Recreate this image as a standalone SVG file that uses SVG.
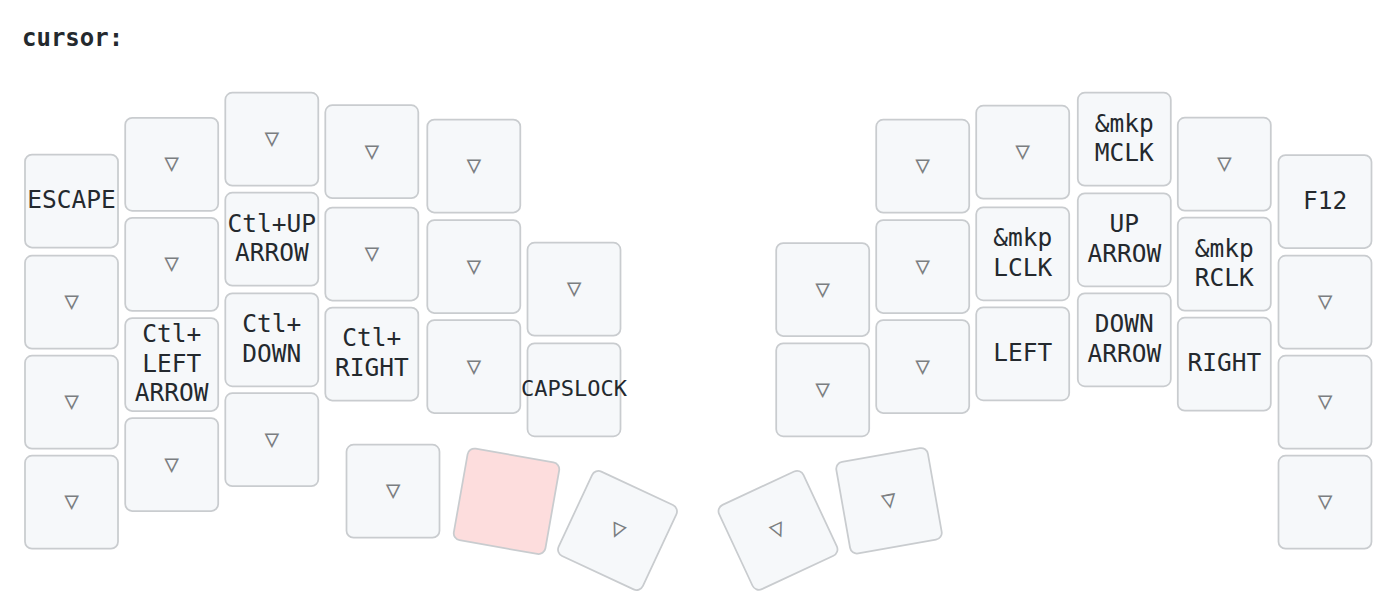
<svg xmlns="http://www.w3.org/2000/svg" width="1400" height="597" viewBox="0 0 1400 597">
<style>
svg { background: #ffffff; }
text { font-family: "DejaVu Sans Mono", "Liberation Mono", monospace; font-size: 24.5px; text-anchor: middle; dominant-baseline: middle; fill: #24292e; }
.label { font-weight: bold; text-anchor: start; dominant-baseline: auto; font-size: 24px; }
rect.key { fill: #f6f8fa; stroke: #c9cccf; stroke-width: 1.75; }
rect.held { fill: #fddddd; }
text.trans { fill: #7b7e81; }
text.small { font-size: 22px; }
</style>
<defs>
<rect id="k" class="key" x="-46.5" y="-46.5" width="93" height="93" rx="7" ry="7"/>
</defs>
<text class="label" x="22" y="46">cursor:</text>
<g id="left-hand">
<g id="L00" transform="translate(71.5,201)"><rect class="key" x="-46.5" y="-46.5" width="93" height="93" rx="7"/><text x="0" y="0">ESCAPE</text></g>
<g id="L01" transform="translate(71.5,302.2)"><rect class="key" x="-46.5" y="-46.5" width="93" height="93" rx="7"/><text class="trans" x="0" y="0">▽</text></g>
<g id="L02" transform="translate(71.5,402.2)"><rect class="key" x="-46.5" y="-46.5" width="93" height="93" rx="7"/><text class="trans" x="0" y="0">▽</text></g>
<g id="L03" transform="translate(71.5,502.2)"><rect class="key" x="-46.5" y="-46.5" width="93" height="93" rx="7"/><text class="trans" x="0" y="0">▽</text></g>

<g id="L10" transform="translate(171.7,164.3)"><rect class="key" x="-46.5" y="-46.5" width="93" height="93" rx="7"/><text class="trans" x="0" y="0">▽</text></g>
<g id="L11" transform="translate(171.7,264.4)"><rect class="key" x="-46.5" y="-46.5" width="93" height="93" rx="7"/><text class="trans" x="0" y="0">▽</text></g>
<g id="L12" transform="translate(171.7,364.5)"><rect class="key" x="-46.5" y="-46.5" width="93" height="93" rx="7"/><text x="0" y="0"><tspan x="0" dy="-1.2em">Ctl+</tspan><tspan x="0" dy="1.2em">LEFT</tspan><tspan x="0" dy="1.2em">ARROW</tspan></text></g>
<g id="L13" transform="translate(171.7,464.5)"><rect class="key" x="-46.5" y="-46.5" width="93" height="93" rx="7"/><text class="trans" x="0" y="0">▽</text></g>

<g id="L20" transform="translate(271.8,139.2)"><rect class="key" x="-46.5" y="-46.5" width="93" height="93" rx="7"/><text class="trans" x="0" y="0">▽</text></g>
<g id="L21" transform="translate(271.8,239.2)"><rect class="key" x="-46.5" y="-46.5" width="93" height="93" rx="7"/><text x="0" y="0"><tspan x="0" dy="-0.6em">Ctl+UP</tspan><tspan x="0" dy="1.2em">ARROW</tspan></text></g>
<g id="L22" transform="translate(271.8,339.8)"><rect class="key" x="-46.5" y="-46.5" width="93" height="93" rx="7"/><text x="0" y="0"><tspan x="0" dy="-0.6em">Ctl+</tspan><tspan x="0" dy="1.2em">DOWN</tspan></text></g>
<g id="L23" transform="translate(271.8,439.7)"><rect class="key" x="-46.5" y="-46.5" width="93" height="93" rx="7"/><text class="trans" x="0" y="0">▽</text></g>

<g id="L30" transform="translate(371.8,151.7)"><rect class="key" x="-46.5" y="-46.5" width="93" height="93" rx="7"/><text class="trans" x="0" y="0">▽</text></g>
<g id="L31" transform="translate(371.8,254)"><rect class="key" x="-46.5" y="-46.5" width="93" height="93" rx="7"/><text class="trans" x="0" y="0">▽</text></g>
<g id="L32" transform="translate(371.8,354)"><rect class="key" x="-46.5" y="-46.5" width="93" height="93" rx="7"/><text x="0" y="0"><tspan x="0" dy="-0.6em">Ctl+</tspan><tspan x="0" dy="1.2em">RIGHT</tspan></text></g>

<g id="L40" transform="translate(473.8,166)"><rect class="key" x="-46.5" y="-46.5" width="93" height="93" rx="7"/><text class="trans" x="0" y="0">▽</text></g>
<g id="L41" transform="translate(473.8,266.5)"><rect class="key" x="-46.5" y="-46.5" width="93" height="93" rx="7"/><text class="trans" x="0" y="0">▽</text></g>
<g id="L42" transform="translate(473.8,366.5)"><rect class="key" x="-46.5" y="-46.5" width="93" height="93" rx="7"/><text class="trans" x="0" y="0">▽</text></g>

<g id="L50" transform="translate(574,289.2)"><rect class="key" x="-46.5" y="-46.5" width="93" height="93" rx="7"/><text class="trans" x="0" y="0">▽</text></g>
<g id="L51" transform="translate(574,389.8)"><rect class="key" x="-46.5" y="-46.5" width="93" height="93" rx="7"/><text class="small" x="0" y="0">CAPSLOCK</text></g>

<g id="LT0" transform="translate(393,491.2)"><rect class="key" x="-46.5" y="-46.5" width="93" height="93" rx="7"/><text class="trans" x="0" y="0">▽</text></g>
<g id="LT1" transform="translate(506.5,501.3) rotate(10)"><rect class="key held" x="-46.5" y="-46.5" width="93" height="93" rx="7"/></g>
<g id="LT2" transform="translate(617.5,530.5) rotate(25)"><rect class="key" x="-46.5" y="-46.5" width="93" height="93" rx="7"/><text class="trans" x="0" y="0">▽</text></g>
</g>

<g id="right-hand">
<g id="R50" transform="translate(822.7,289.5)"><rect class="key" x="-46.5" y="-46.5" width="93" height="93" rx="7"/><text class="trans" x="0" y="0">▽</text></g>
<g id="R51" transform="translate(822.7,389.8)"><rect class="key" x="-46.5" y="-46.5" width="93" height="93" rx="7"/><text class="trans" x="0" y="0">▽</text></g>

<g id="R40" transform="translate(922.7,166.2)"><rect class="key" x="-46.5" y="-46.5" width="93" height="93" rx="7"/><text class="trans" x="0" y="0">▽</text></g>
<g id="R41" transform="translate(922.7,266.5)"><rect class="key" x="-46.5" y="-46.5" width="93" height="93" rx="7"/><text class="trans" x="0" y="0">▽</text></g>
<g id="R42" transform="translate(922.7,366.5)"><rect class="key" x="-46.5" y="-46.5" width="93" height="93" rx="7"/><text class="trans" x="0" y="0">▽</text></g>

<g id="R30" transform="translate(1022.7,152.2)"><rect class="key" x="-46.5" y="-46.5" width="93" height="93" rx="7"/><text class="trans" x="0" y="0">▽</text></g>
<g id="R31" transform="translate(1022.7,253.8)"><rect class="key" x="-46.5" y="-46.5" width="93" height="93" rx="7"/><text x="0" y="0"><tspan x="0" dy="-0.6em">&amp;mkp</tspan><tspan x="0" dy="1.2em">LCLK</tspan></text></g>
<g id="R32" transform="translate(1022.7,353.8)"><rect class="key" x="-46.5" y="-46.5" width="93" height="93" rx="7"/><text x="0" y="0">LEFT</text></g>

<g id="R20" transform="translate(1124.3,139.2)"><rect class="key" x="-46.5" y="-46.5" width="93" height="93" rx="7"/><text x="0" y="0"><tspan x="0" dy="-0.6em">&amp;mkp</tspan><tspan x="0" dy="1.2em">MCLK</tspan></text></g>
<g id="R21" transform="translate(1124.3,239.8)"><rect class="key" x="-46.5" y="-46.5" width="93" height="93" rx="7"/><text x="0" y="0"><tspan x="0" dy="-0.6em">UP</tspan><tspan x="0" dy="1.2em">ARROW</tspan></text></g>
<g id="R22" transform="translate(1124.3,339.8)"><rect class="key" x="-46.5" y="-46.5" width="93" height="93" rx="7"/><text x="0" y="0"><tspan x="0" dy="-0.6em">DOWN</tspan><tspan x="0" dy="1.2em">ARROW</tspan></text></g>

<g id="R10" transform="translate(1224.3,164.2)"><rect class="key" x="-46.5" y="-46.5" width="93" height="93" rx="7"/><text class="trans" x="0" y="0">▽</text></g>
<g id="R11" transform="translate(1224.3,264.2)"><rect class="key" x="-46.5" y="-46.5" width="93" height="93" rx="7"/><text x="0" y="0"><tspan x="0" dy="-0.6em">&amp;mkp</tspan><tspan x="0" dy="1.2em">RCLK</tspan></text></g>
<g id="R12" transform="translate(1224.3,364.2)"><rect class="key" x="-46.5" y="-46.5" width="93" height="93" rx="7"/><text x="0" y="0">RIGHT</text></g>

<g id="R00" transform="translate(1325,201.5)"><rect class="key" x="-46.5" y="-46.5" width="93" height="93" rx="7"/><text x="0" y="0">F12</text></g>
<g id="R01" transform="translate(1325,302.2)"><rect class="key" x="-46.5" y="-46.5" width="93" height="93" rx="7"/><text class="trans" x="0" y="0">▽</text></g>
<g id="R02" transform="translate(1325,402.2)"><rect class="key" x="-46.5" y="-46.5" width="93" height="93" rx="7"/><text class="trans" x="0" y="0">▽</text></g>
<g id="R03" transform="translate(1325,502.2)"><rect class="key" x="-46.5" y="-46.5" width="93" height="93" rx="7"/><text class="trans" x="0" y="0">▽</text></g>

<g id="RT0" transform="translate(778,530.3) rotate(-25)"><rect class="key" x="-46.5" y="-46.5" width="93" height="93" rx="7"/><text class="trans" x="0" y="0">▽</text></g>
<g id="RT1" transform="translate(889,500.8) rotate(-10)"><rect class="key" x="-46.5" y="-46.5" width="93" height="93" rx="7"/><text class="trans" x="0" y="0">▽</text></g>
</g>
<g id="connectors"/>
</svg>
